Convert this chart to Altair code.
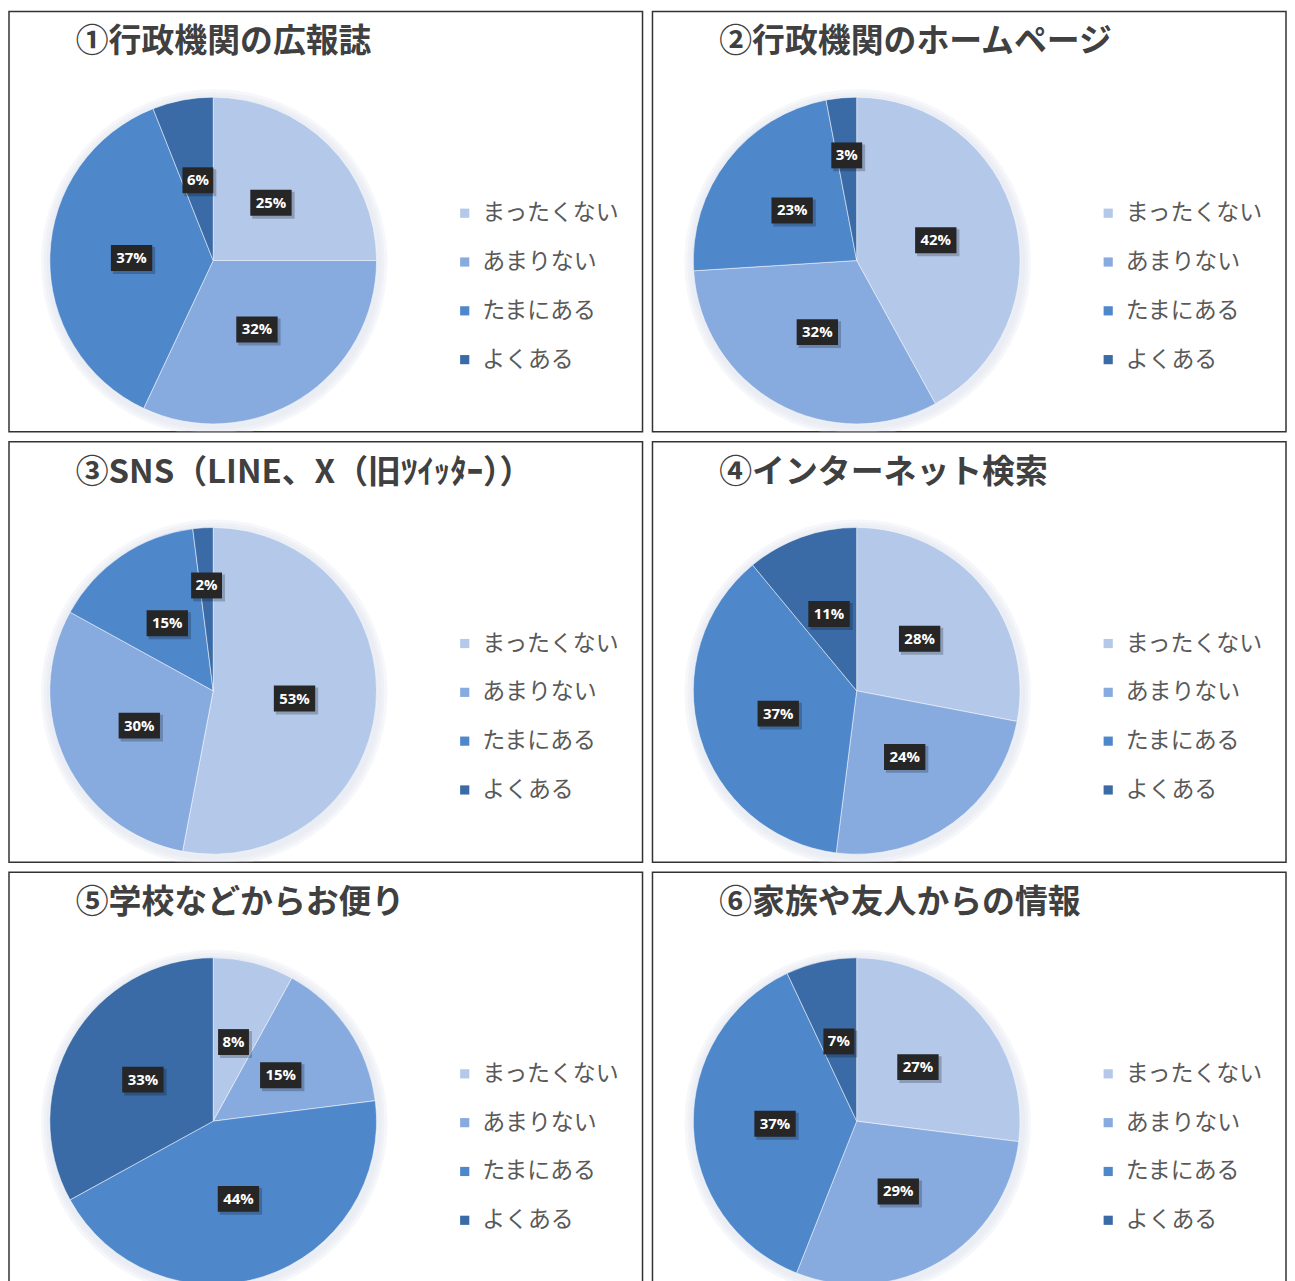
import altair as alt
import pandas as pd

categories = ["まったくない", "あまりない", "たまにある", "よくある"]
colors = ["#b4c8e9", "#88abdf", "#4f87cb", "#3a6ba7"]

titles = [
    "①行政機関の広報誌",
    "②行政機関のホームページ",
    "③SNS（LINE、X（旧ﾂｲｯﾀｰ））",
    "④インターネット検索",
    "⑤学校などからお便り",
    "⑥家族や友人からの情報",
]

v1 = [25, 32, 37, 6]
v2 = [42, 32, 23, 3]
v3 = [53, 30, 15, 2]
v4 = [28, 24, 37, 11]
v5 = [8, 15, 44, 33]
v6 = [27, 29, 37, 7]
series = [v1, v2, v3, v4, v5, v6]

W, H = 636, 422
CX, CY, R = 205, 250, 164
LABEL_FONT = "Open Sans"
CJK = "Noto Sans CJK JP"


def panel(title, values):
    df = pd.DataFrame({"cat": categories, "value": values, "order": list(range(len(categories)))})
    base = alt.Chart(df)

    glows = [
        alt.Chart(pd.DataFrame({"d": [0]})).mark_arc(
            theta=0, theta2=6.2832, radius=R + g, fill="#dde3ec", opacity=0.28, clip=True
        ).encode(x=alt.value(CX + 1), y=alt.value(CY + 2))
        for g in (10, 7, 4)
    ]

    arcs = base.mark_arc(radius=R, stroke="#ffffff", strokeWidth=0.5, clip=True).encode(
        theta=alt.Theta("value:Q", stack=True),
        order=alt.Order("order:Q"),
        color=alt.Color(
            "cat:N",
            scale=alt.Scale(domain=categories, range=colors),
            legend=alt.Legend(
                orient="none",
                legendX=446,
                legendY=191,
                title=None,
                symbolType="square",
                symbolSize=85,
                symbolStrokeWidth=0,
                labelFontSize=23,
                labelFont=CJK,
                labelColor="#595959",
                labelOffset=6,
                rowPadding=25,
            ),
        ),
        x=alt.value(CX),
        y=alt.value(CY),
    )

    lab = (
        base.transform_joinaggregate(total="sum(value)")
        .transform_window(cum="sum(value)", sort=[alt.SortField("order")], frame=[None, 0])
        .transform_calculate(
            mid="(datum.cum - datum.value / 2) / datum.total * 2 * PI",
            rr="datum.value < 5 ? 106 : 82",
            label="datum.value + '%'",
        )
        .transform_calculate(
            lx=f"{CX} + datum.rr * sin(datum.mid)",
            ly=f"{CY} - datum.rr * cos(datum.mid)",
            bw="10 + 10.5 * length(datum.label)",
        )
        .transform_calculate(
            x1="datum.lx - datum.bw / 2",
            x2="datum.lx + datum.bw / 2",
            y1="datum.ly - 13",
            y2="datum.ly + 13",
            sx1="datum.lx - datum.bw / 2 + 2",
            sx2="datum.lx + datum.bw / 2 + 3",
            sy1="datum.ly - 11",
            sy2="datum.ly + 16",
        )
    )

    shadow = lab.mark_rect(color="#000000", opacity=0.22).encode(
        x=alt.X("sx1:Q", scale=None, axis=None),
        x2="sx2:Q",
        y=alt.Y("sy1:Q", scale=None, axis=None),
        y2="sy2:Q",
    )
    boxes = lab.mark_rect(color="#262626").encode(
        x=alt.X("x1:Q", scale=None, axis=None),
        x2="x2:Q",
        y=alt.Y("y1:Q", scale=None, axis=None),
        y2="y2:Q",
    )
    texts = lab.mark_text(
        color="#ffffff", font=LABEL_FONT, fontWeight="bold", fontSize=15
    ).encode(
        x=alt.X("lx:Q", scale=None, axis=None),
        y=alt.Y("ly:Q", scale=None, axis=None),
        text="label:N",
    )

    ttl = alt.Chart(pd.DataFrame({"t": [title]})).mark_text(
        align="left", baseline="middle", font=CJK, fontSize=33, fontWeight="bold", color="#404040"
    ).encode(text="t:N", x=alt.value(67), y=alt.value(31))

    return alt.layer(*glows, arcs, shadow, boxes, texts, ttl).properties(width=W, height=H)


panels = [panel(t, v) for t, v in zip(titles, series)]

chart = (
    alt.concat(*panels, columns=2, spacing=8)
    .resolve_scale(color="independent")
    .properties(padding=0, background="#ffffff")
    .configure_view(stroke="#333333", strokeWidth=1.5)
)

chart.save("out.html", embed_options={"renderer": "svg", "actions": False})
